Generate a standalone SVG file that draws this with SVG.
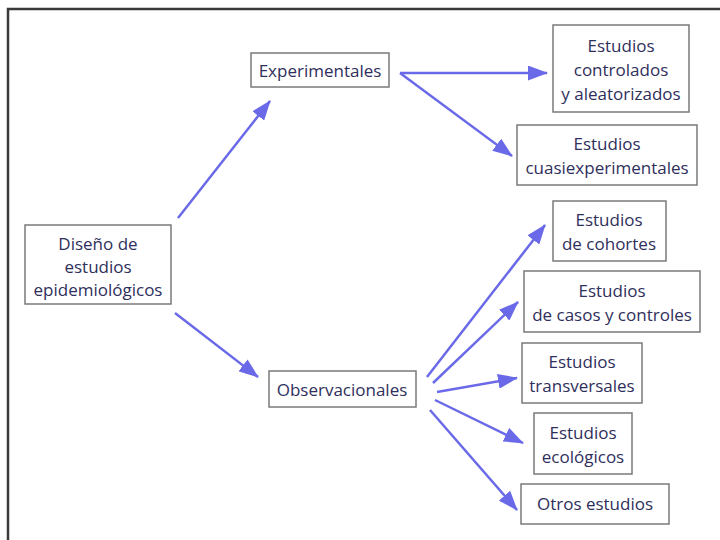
<svg xmlns="http://www.w3.org/2000/svg" width="720" height="540" viewBox="0 0 720 540">
<style>
.box{fill:#fff;stroke:#7a7a7a;stroke-width:1.5}
.t{font-family:"Open Sans","Liberation Sans",sans-serif;font-size:17px;fill:#2f2f5c;text-anchor:middle;dominant-baseline:central}
.c{stroke:#6a6ae8;stroke-width:2.5;fill:none;marker-end:url(#ah)}
</style>
<defs>
<marker id="ah" viewBox="0 0 20 15" refX="19" refY="7.5" markerWidth="20" markerHeight="15" markerUnits="userSpaceOnUse" orient="auto">
<path d="M0,0 L20,7.5 L0,15 Z" fill="#6a6ae8"/>
</marker>
</defs>
<rect width="720" height="540" fill="#fff"/>
<path d="M8,540 V9 H720" fill="none" stroke="#3a3a3a" stroke-width="2.5"/>
<g id="connectors">
<line class="c" x1="178" y1="218" x2="270" y2="101"/>
<line class="c" x1="175" y1="313" x2="258" y2="377"/>
<line class="c" x1="400" y1="73" x2="547" y2="73"/>
<line class="c" x1="400" y1="73" x2="512" y2="156"/>
<line class="c" x1="427" y1="377" x2="545" y2="225"/>
<line class="c" x1="433" y1="383" x2="518" y2="302"/>
<line class="c" x1="437" y1="392" x2="517" y2="378"/>
<line class="c" x1="435" y1="400" x2="523" y2="443"/>
<line class="c" x1="430" y1="410" x2="517" y2="510"/>
</g>
<g id="diseno">
<rect class="box" x="25" y="225" width="146" height="79"/>
<text class="t" x="98" y="243">Diseño de</text>
<text class="t" x="98" y="266">estudios</text>
<text class="t" x="98" y="289">epidemiológicos</text>
</g>
<g id="experimentales">
<rect class="box" x="251" y="53" width="138" height="34"/>
<text class="t" x="320" y="70">Experimentales</text>
</g>
<g id="controlados">
<rect class="box" x="553" y="25" width="136" height="87"/>
<text class="t" x="621" y="45">Estudios</text>
<text class="t" x="621" y="69">controlados</text>
<text class="t" x="621" y="93">y aleatorizados</text>
</g>
<g id="cuasi">
<rect class="box" x="517" y="125" width="180" height="60"/>
<text class="t" x="607" y="143">Estudios</text>
<text class="t" x="607" y="167">cuasiexperimentales</text>
</g>
<g id="observacionales">
<rect class="box" x="269" y="371" width="147" height="36"/>
<text class="t" x="342" y="389">Observacionales</text>
</g>
<g id="cohortes">
<rect class="box" x="553" y="201" width="113" height="60"/>
<text class="t" x="609" y="219">Estudios</text>
<text class="t" x="609" y="243">de cohortes</text>
</g>
<g id="casos">
<rect class="box" x="524" y="271" width="176" height="61"/>
<text class="t" x="612" y="290">Estudios</text>
<text class="t" x="612" y="314">de casos y controles</text>
</g>
<g id="transversales">
<rect class="box" x="522" y="343" width="120" height="60"/>
<text class="t" x="582" y="361">Estudios</text>
<text class="t" x="582" y="385">transversales</text>
</g>
<g id="ecologicos">
<rect class="box" x="534" y="413" width="98" height="61"/>
<text class="t" x="583" y="432">Estudios</text>
<text class="t" x="583" y="456">ecológicos</text>
</g>
<g id="otros">
<rect class="box" x="521" y="484" width="148" height="40"/>
<text class="t" x="595" y="503">Otros estudios</text>
</g>
</svg>
